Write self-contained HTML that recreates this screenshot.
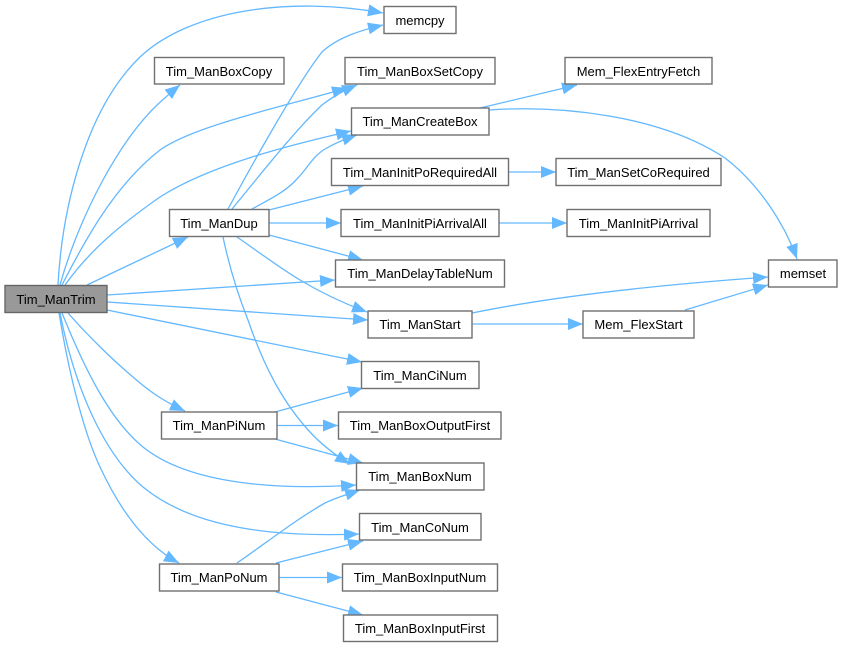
<!DOCTYPE html>
<html>
<head>
<meta charset="utf-8">
<style>
html,body{margin:0;padding:0;background:#fff;width:842px;height:647px;overflow:hidden}
svg{display:block}
text{font-family:"Liberation Sans",sans-serif;font-size:13px;fill:#000;text-anchor:middle}
.n{fill:#fff;stroke:#707070;stroke-width:1.4}
.e{fill:none;stroke:#63b8ff;stroke-width:1.3;marker-end:url(#a)}
</style>
</head>
<body>
<svg width="842" height="647" viewBox="0 0 842 647" xmlns="http://www.w3.org/2000/svg">
<defs>
<marker id="a" markerUnits="userSpaceOnUse" markerWidth="16" markerHeight="14" refX="15" refY="7" orient="auto">
<path d="M0,1 L15,7 L0,13 Z" fill="#63b8ff"/>
</marker>
</defs>
<g>
<path class="e" d="M58,285 C62,210 85,110 140,57 C190,10 290,-4 383,13"/>
<path class="e" d="M60,285 C78,220 120,135 166,97 C170,93 175,89 180,85"/>
<path class="e" d="M62,285 C85,240 115,185 160,150 C195,125 290,105 347,88"/>
<path class="e" d="M65,285 C90,250 120,225 160,197 C210,165 290,145 351,131"/>
<path class="e" d="M87,285 L188,237"/>
<path class="e" d="M107,295 L335,280"/>
<path class="e" d="M107,302 L368,320"/>
<path class="e" d="M107,310 L362,362"/>
<path class="e" d="M68,313 C90,338 115,362 133,377 C150,392 165,402 185,411"/>
<path class="e" d="M62,313 C85,370 110,420 143,447 C190,485 280,490 356,485"/>
<path class="e" d="M60,313 C75,390 105,455 143,487 C195,530 280,537 359,534"/>
<path class="e" d="M59,313 C70,380 85,435 100,467 C120,510 145,545 179,563"/>
<path class="e" d="M228,209 C248,172 296,85 322,52 C338,37 362,30 383,25"/>
<path class="e" d="M232,209 C252,185 295,130 322,105 C335,95 345,90 357,85"/>
<path class="e" d="M252,209 C270,199 285,192 296,180 C308,168 312,157 325,149 C335,143 345,139 357,135"/>
<path class="e" d="M269,210 L363,186"/>
<path class="e" d="M269,223 L341,223"/>
<path class="e" d="M269,235 L363,260"/>
<path class="e" d="M237,237 C260,253 280,268 300,280 C320,292 340,302 367,312"/>
<path class="e" d="M223,237 C230,270 240,300 248,320 C265,370 285,405 310,432 C322,445 335,455 350,464"/>
<path class="e" d="M275,412 L363,388"/>
<path class="e" d="M277,425.500 L338,425.500"/>
<path class="e" d="M275,439 L363,463"/>
<path class="e" d="M237,563 C262,546 295,520 325,503 C335,498 348,494 360,490"/>
<path class="e" d="M276,563 L363,541"/>
<path class="e" d="M279,577.500 L342,577.500"/>
<path class="e" d="M276,592 L363,615"/>
<path class="e" d="M480,108 L577,85"/>
<path class="e" d="M489,110 C560,105 660,115 725,158 C760,185 785,225 797,259"/>
<path class="e" d="M508.500,172 L556,172"/>
<path class="e" d="M499,223 L567,223"/>
<path class="e" d="M472,313 C560,295 670,284 768,277"/>
<path class="e" d="M472,324 L583,324"/>
<path class="e" d="M685,310 L768,285"/>
</g>
<g>
<rect x="5" y="285.500" width="102" height="27" style="fill:#999;stroke:#666;stroke-width:1.4"/><text x="56" y="304">Tim_ManTrim</text>
<rect class="n" x="384" y="6.500" width="72" height="27"/><text x="420" y="25">memcpy</text>
<rect class="n" x="154.500" y="57.500" width="129.500" height="26.500"/><text x="219" y="76">Tim_ManBoxCopy</text>
<rect class="n" x="345" y="57.500" width="150" height="26.500"/><text x="420" y="76">Tim_ManBoxSetCopy</text>
<rect class="n" x="351.500" y="108" width="137.500" height="27"/><text x="420" y="126">Tim_ManCreateBox</text>
<rect class="n" x="331.500" y="158.500" width="177" height="27"/><text x="420" y="177">Tim_ManInitPoRequiredAll</text>
<rect class="n" x="169.500" y="209.500" width="99.500" height="27"/><text x="219" y="228">Tim_ManDup</text>
<rect class="n" x="341" y="209.500" width="158" height="27"/><text x="420" y="228">Tim_ManInitPiArrivalAll</text>
<rect class="n" x="335.500" y="260" width="169" height="27"/><text x="420" y="278">Tim_ManDelayTableNum</text>
<rect class="n" x="368" y="311" width="104" height="27"/><text x="420" y="329">Tim_ManStart</text>
<rect class="n" x="361.500" y="361.500" width="117.500" height="27"/><text x="420" y="380">Tim_ManCiNum</text>
<rect class="n" x="161.500" y="412" width="115.500" height="27"/><text x="219" y="430">Tim_ManPiNum</text>
<rect class="n" x="338.500" y="412" width="162.500" height="27"/><text x="420" y="430">Tim_ManBoxOutputFirst</text>
<rect class="n" x="356.500" y="463" width="127.500" height="27"/><text x="420" y="481">Tim_ManBoxNum</text>
<rect class="n" x="359.500" y="513.500" width="121.500" height="26.500"/><text x="420" y="532">Tim_ManCoNum</text>
<rect class="n" x="159.500" y="564" width="119.500" height="27"/><text x="219" y="582">Tim_ManPoNum</text>
<rect class="n" x="342.500" y="564" width="155" height="27"/><text x="420" y="582">Tim_ManBoxInputNum</text>
<rect class="n" x="343.500" y="615" width="154" height="26.500"/><text x="420" y="633">Tim_ManBoxInputFirst</text>
<rect class="n" x="565" y="57.500" width="147" height="26.500"/><text x="638.500" y="76">Mem_FlexEntryFetch</text>
<rect class="n" x="556" y="158.500" width="165" height="27"/><text x="638.500" y="177">Tim_ManSetCoRequired</text>
<rect class="n" x="567" y="209.500" width="143" height="27"/><text x="638.500" y="228">Tim_ManInitPiArrival</text>
<rect class="n" x="768.500" y="260" width="68.500" height="27"/><text x="803" y="278">memset</text>
<rect class="n" x="583" y="311" width="111" height="27"/><text x="638.500" y="329">Mem_FlexStart</text>
</g>
</svg>
</body>
</html>
